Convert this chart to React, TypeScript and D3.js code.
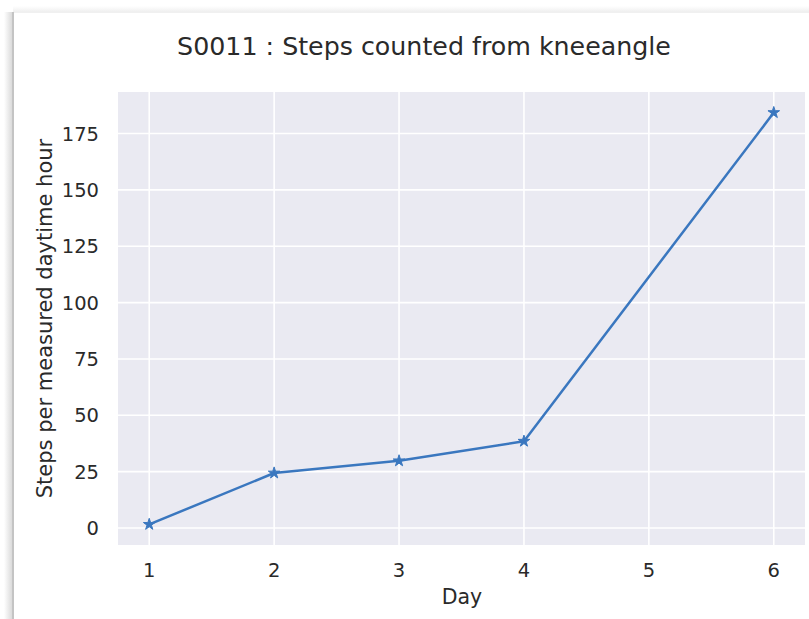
import React from "react";
import * as d3 from "d3";

const days = [1, 2, 3, 4, 6];
const steps = [1.6, 24.4, 29.8, 38.5, 184.3];
const xTicks = [1, 2, 3, 4, 5, 6];
const yTicks = [0, 25, 50, 75, 100, 125, 150, 175];
const title = "S0011 : Steps counted from kneeangle";
const xLabel = "Day";
const yLabel = "Steps per measured daytime hour";

const W = 809;
const H = 619;
const plot = { left: 118, right: 805, top: 92, bottom: 545 };
const FONT = "DejaVu Sans, sans-serif";
const LINE = "#3a77bf";

export default function App() {
  const x = d3.scaleLinear().domain([0.75, 6.25]).range([plot.left, plot.right]);
  const ext = d3.extent(steps) as [number, number];
  const pad = (ext[1] - ext[0]) * 0.05;
  const y = d3.scaleLinear().domain([ext[0] - pad, ext[1] + pad]).range([plot.bottom, plot.top]);
  const pts = days.map((d, i) => [d, steps[i]] as [number, number]);
  const line = d3.line<[number, number]>().x((d) => x(d[0])).y((d) => y(d[1]));
  const star = d3.symbol(d3.symbolStar, 42)()!;

  return (
    <svg width={W} height={H} style={{ position: "absolute", left: 0, top: 0 }} fontFamily={FONT}>
      <defs>
        <linearGradient id="shL" x1="0" x2="1" y1="0" y2="0">
          <stop offset="0" stopColor="#ffffff" />
          <stop offset="1" stopColor="#d6d6d6" />
        </linearGradient>
        <linearGradient id="shT" x1="0" x2="0" y1="0" y2="1">
          <stop offset="0" stopColor="#ffffff" />
          <stop offset="1" stopColor="#ececec" />
        </linearGradient>
      </defs>
      <rect x={0} y={0} width={W} height={H} fill="#ffffff" />
      <rect x={13} y={6} width={W - 13} height={7} fill="url(#shT)" />
      <rect x={4} y={12} width={9} height={H - 12} fill="url(#shL)" />
      <rect x={12} y={12} width={2} height={H - 12} fill="#c4c4c4" />
      <rect x={14} y={12} width={W - 14} height={1} fill="#f0f0f0" />

      <text x={424} y={55} fontSize={25.3} textAnchor="middle" fill="#2a2a2a">
        {title}
      </text>

      <rect
        x={plot.left}
        y={plot.top}
        width={plot.right - plot.left}
        height={plot.bottom - plot.top}
        fill="#eaeaf2"
      />
      {xTicks.map((t) => (
        <line key={"gx" + t} x1={x(t)} x2={x(t)} y1={plot.top} y2={plot.bottom} stroke="#ffffff" strokeWidth={1.6} />
      ))}
      {yTicks.map((t) => (
        <line key={"gy" + t} x1={plot.left} x2={plot.right} y1={y(t)} y2={y(t)} stroke="#ffffff" strokeWidth={1.6} />
      ))}

      <path d={line(pts)!} fill="none" stroke={LINE} strokeWidth={2.5} strokeLinejoin="round" />
      {pts.map((p, i) => (
        <path key={"m" + i} d={star} transform={`translate(${x(p[0])},${y(p[1])})`} fill={LINE} stroke={LINE} strokeWidth={1} />
      ))}

      {xTicks.map((t) => (
        <text key={"tx" + t} x={x(t)} y={577} fontSize={19.5} textAnchor="middle" fill="#2a2a2a">
          {t}
        </text>
      ))}
      {yTicks.map((t) => (
        <text key={"ty" + t} x={99} y={y(t) + 7} fontSize={19.5} textAnchor="end" fill="#2a2a2a">
          {t}
        </text>
      ))}

      <text x={462} y={604} fontSize={20.5} textAnchor="middle" fill="#2a2a2a">
        {xLabel}
      </text>
      <text
        transform={`translate(52,${(plot.top + plot.bottom) / 2}) rotate(-90)`}
        fontSize={21}
        textAnchor="middle"
        fill="#2a2a2a"
      >
        {yLabel}
      </text>
    </svg>
  );
}
